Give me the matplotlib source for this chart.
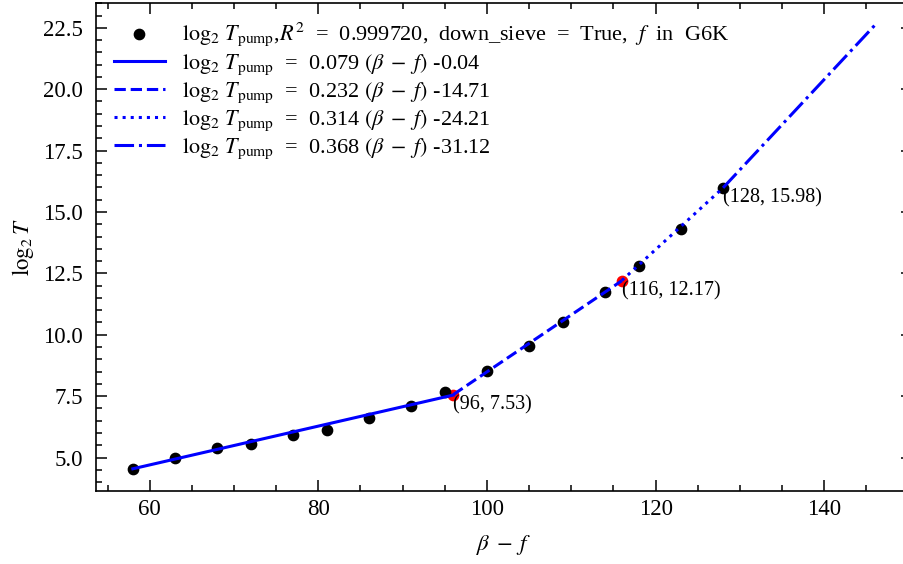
import numpy as np
import matplotlib
matplotlib.use('Agg')
import matplotlib.pyplot as plt
from matplotlib.ticker import MultipleLocator, FormatStrFormatter

plt.rcParams['font.family'] = ['Liberation Serif', 'DejaVu Serif']
plt.rcParams['mathtext.fontset'] = 'stix'
plt.rcParams['font.size'] = 16.5

# measured points
beta_f = [58, 63, 68, 72, 77, 81, 86, 91, 95, 100, 105, 109, 114, 118, 123, 128]
log2_t = [4.54, 4.97, 5.39, 5.57, 5.93, 6.14, 6.59, 7.09, 7.66, 8.51, 9.54, 10.50,
          11.74, 12.82, 14.32, 15.98]

# piecewise fits
slopes = [0.079, 0.232, 0.314, 0.368]
intercepts = [-0.04, -14.71, -24.21, -31.12]
seg_start = [58, 96, 116, 128]
seg_end = [96, 116, 128, 146]
styles = ['-', '--', ':', '-.']

# break points
bp_x = [96, 116, 128]
bp_y = [7.53, 12.17, 15.98]

fig = plt.figure(figsize=(9.04, 5.64), dpi=100)
ax = fig.add_axes([0.1059, 0.1294, 0.9029, 0.8653])

ax.scatter(bp_x[:2], bp_y[:2], color='r', s=55, zorder=2)
ax.scatter(beta_f, log2_t, color='k', s=55, zorder=3,
           label=r'$\log_2\,T_{\mathrm{pump}}$,$R^2$  =  0.999720,  down_sieve  =  True,  $f$  in  G6K')

for a, b, x0, x1, ls in zip(slopes, intercepts, seg_start, seg_end, styles):
    xs = np.array([x0, x1])
    ax.plot(xs, a * xs + b, color='b', ls=ls, lw=2.2, zorder=4,
            label=r'$\log_2\,T_{\mathrm{pump}}$  =  %.3f $(\beta\;-\;f)$ %.2f' % (a, b))

for x, y in zip(bp_x, bp_y):
    ax.text(x, y, '(%d, %.2f)' % (x, y), ha='left', va='top', fontsize=14.5, zorder=5)

ax.set_xlabel(r'$\beta\; -\; f$', labelpad=9)
ax.set_ylabel(r'$\log_2 T$', labelpad=5)
ax.xaxis.set_major_locator(MultipleLocator(20))
ax.xaxis.set_minor_locator(MultipleLocator(5))
ax.yaxis.set_major_locator(MultipleLocator(2.5))
ax.yaxis.set_minor_locator(MultipleLocator(0.5))
ax.yaxis.set_major_formatter(FormatStrFormatter('%.1f'))
ax.tick_params(which='both', direction='in', top=True, right=True, width=1.1)
ax.tick_params(which='major', length=8)
ax.tick_params(which='minor', length=4)
ax.tick_params(axis='x', which='major', pad=6)
ax.tick_params(axis='y', which='major', pad=9)
for s in ax.spines.values():
    s.set_linewidth(1.2)

ax.legend(loc='upper left', frameon=False, fontsize=16, handlelength=2.3,
          handletextpad=0.8, borderaxespad=0.5, borderpad=0.3, labelspacing=0.16)

fig.savefig('out.png', dpi=100)
